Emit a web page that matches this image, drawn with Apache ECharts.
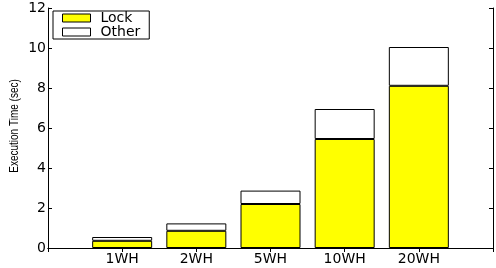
<!DOCTYPE html>
<html><head><meta charset="utf-8">
<script src="https://cdn.jsdelivr.net/npm/echarts@6/dist/echarts.min.js"></script>
<style>html,body{margin:0;padding:0;background:#fff}#c{width:496px;height:268px}</style>
</head><body><div id="c"></div>
<script>
const categories = ['1WH', '2WH', '5WH', '10WH', '20WH'];
const lockValues = [0.36, 0.86, 2.2, 5.45, 8.11];
const otherValues = [0.19, 0.37, 0.67, 1.5, 1.94];
const yTicks = [0, 2, 4, 6, 8, 10, 12];
const yTitle = 'Execution Time (sec)';

const font = 'DejaVu Sans';
const chart = echarts.init(document.getElementById('c'), null, {renderer: 'canvas'});
// pad an empty slot on each side (as in the original x range 0..6)
const xCats = [''].concat(categories, ['']);
const pad = arr => ['-'].concat(arr, ['-']);
chart.setOption({
  animation: false,
  backgroundColor: '#fff',
  grid: {left: 48, right: -2, top: 8, bottom: 20, containLabel: false},
  legend: {
    left: 53, top: 11, orient: 'vertical',
    backgroundColor: '#fff', borderColor: '#000', borderWidth: 1,
    padding: [0, 9, 0, 9], itemGap: 0, itemWidth: 28, itemHeight: 8,
    textStyle: {fontFamily: font, fontSize: 14, color: '#000', lineHeight: 13, padding: [0, 0, 0, 5]},
    data: [
      {name: 'Lock', icon: 'rect', itemStyle: {color: '#ffff00', borderColor: '#000', borderWidth: 1}},
      {name: 'Other', icon: 'rect', itemStyle: {color: '#fff', borderColor: '#000', borderWidth: 1}}
    ]
  },
  xAxis: [{
    type: 'category', data: xCats, boundaryGap: false, position: 'bottom',
    axisLine: {show: true, lineStyle: {color: '#000', width: 1}},
    axisTick: {show: false},
    splitLine: {show: false},
    axisLabel: {fontFamily: font, fontSize: 14, color: '#000', margin: 4, interval: 0}
  }, {
    type: 'category', data: xCats, boundaryGap: false, position: 'top',
    axisLine: {show: true, lineStyle: {color: '#000', width: 1}},
    axisTick: {show: true, inside: true, length: 4, interval: 0, lineStyle: {color: '#000'}},
    splitLine: {show: false}, axisLabel: {show: false}
  }],
  yAxis: [{
    type: 'value', min: yTicks[0], max: yTicks[yTicks.length - 1], interval: 2, position: 'left',
    axisLine: {show: true, lineStyle: {color: '#000', width: 1}},
    axisTick: {show: true, inside: true, length: 4, lineStyle: {color: '#000'}},
    splitLine: {show: false},
    axisLabel: {fontFamily: font, fontSize: 14, color: '#000', margin: 2}
  }, {
    type: 'value', min: yTicks[0], max: yTicks[yTicks.length - 1], interval: 2, position: 'right',
    axisLine: {show: true, lineStyle: {color: '#000', width: 1}},
    axisTick: {show: true, inside: true, length: 4, lineStyle: {color: '#000'}},
    splitLine: {show: false}, axisLabel: {show: false}
  }],
  graphic: [{
    type: 'text', x: 14, y: 126, rotation: Math.PI / 2, scaleY: 1.35,
    style: {text: yTitle, fontFamily: 'Liberation Sans', fontSize: 10, fill: '#000',
      align: 'center', verticalAlign: 'middle'}
  }],
  series: [{
    name: 'Lock', type: 'bar', stack: 'a', barWidth: 60, data: pad(lockValues),
    itemStyle: {color: '#ffff00', borderColor: '#000', borderWidth: 1}
  }, {
    name: 'Other', type: 'bar', stack: 'a', barWidth: 60, data: pad(otherValues),
    itemStyle: {color: '#fff', borderColor: '#000', borderWidth: 1}
  }]
});
</script></body></html>
